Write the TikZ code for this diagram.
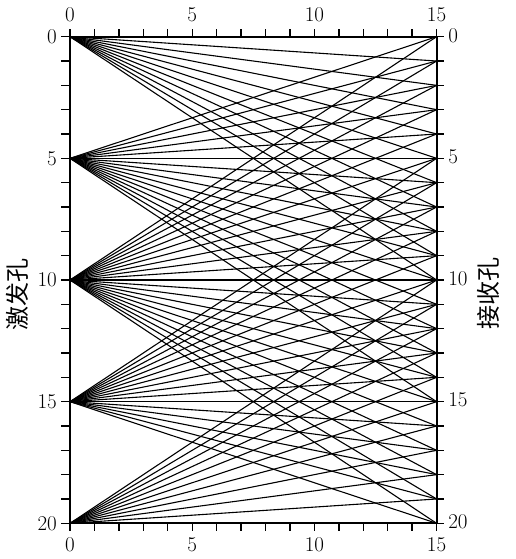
\documentclass[tikz,border=0pt]{standalone}
\usepackage{fontspec}
\newfontfamily\cjk{Noto Sans CJK SC}
\begin{document}
\begin{tikzpicture}[x=24.44pt,y=-24.33pt,
  ray/.style={line width=1.1pt,black},
  axisline/.style={line width=2.2pt,black},
  tickline/.style={line width=1.4pt,black},
  numlab/.style={inner sep=0pt,font=\fontsize{21}{24}\selectfont},
  cjklab/.style={inner sep=0pt,font=\cjk\fontsize{24}{26}\selectfont,rotate=90}]
\useasboundingbox (-2.864,-1.508) rectangle (18.208,21.467);
% sources and receivers
\foreach \s in {0,5,10,15,20} \coordinate (S\s) at (0,\s);
\foreach \r in {0,...,20} \coordinate (R\r) at (15,\r);
% rays
\foreach \s in {0,5,10,15,20} {
  \foreach \r in {0,...,20} {
    \pgfmathtruncatemacro{\d}{abs(\r-\s)}
    \ifnum\d<11
      \draw[ray] (S\s) -- (R\r);
    \fi
  }
}
% frame
\coordinate (TL) at (0,0);
\coordinate (BR) at (15,20);
\draw[axisline] (TL) rectangle (BR);
% ticks
\foreach \i in {0,...,15} {
  \coordinate (tt\i) at (\i,0);
  \coordinate (tb\i) at (\i,20);
  \draw[tickline] (tt\i) -- ++(0,-0.3);
  \draw[tickline] (tb\i) -- ++(0,0.3);
}
\foreach \j in {0,...,20} {
  \coordinate (tl\j) at (0,\j);
  \coordinate (tr\j) at (15,\j);
  \draw[tickline] (tl\j) -- ++(-0.37,0);
  \draw[tickline] (tr\j) -- ++(0.3,0);
}
% labels
\foreach \i in {0,5,10,15} {
  \node[numlab] (top\i) at (\i,-0.89) {\i};
  \node[numlab] (bot\i) at (\i,20.89) {\i};
}
\foreach \j in {0,5,10,15,20} {
  \node[numlab,anchor=east] (lef\j) at (-0.53,\j) {\j};
  \node[numlab,anchor=west] (rig\j) at (15.47,\j-0.06) {\j};
}
\node[cjklab] (src) at (-2.17,10.58) {激发孔};
\node[cjklab] (rcv) at (17.10,10.54) {接收孔};
\end{tikzpicture}
\end{document}
